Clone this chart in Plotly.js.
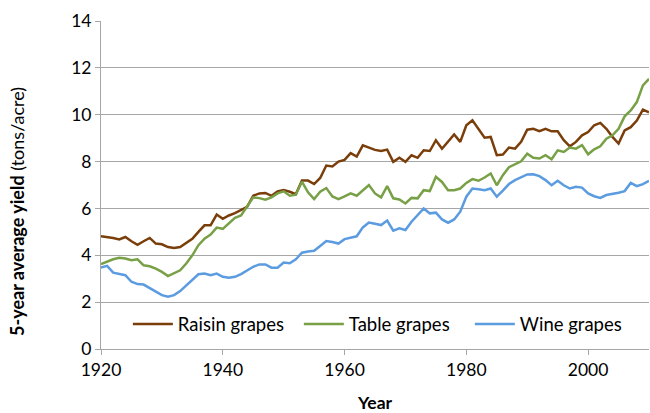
<!DOCTYPE html>
<html>
<head>
<meta charset="utf-8">
<script src="https://cdn.plot.ly/plotly-3.0.1.min.js"></script>
<style>html,body{margin:0;padding:0;background:#fff}#chart{width:650px;height:413px}</style>
</head>
<body>
<div id="chart"></div>
<script>
var startYear = 1920;
var endYear = 2010;
var years = [];
for (var y = startYear; y <= endYear; y++) years.push(y);

var raisin = [4.81,4.78,4.74,4.68,4.78,4.6,4.45,4.6,4.74,4.5,4.47,4.35,4.31,4.35,4.52,4.7,5.0,5.28,5.28,5.74,5.56,5.7,5.8,5.95,
  6.07,6.54,6.64,6.66,6.54,6.73,6.79,6.71,6.61,7.19,7.19,7.04,7.3,7.83,7.79,8.0,8.07,8.36,8.21,8.69,8.6,8.5,
  8.45,8.51,7.99,8.16,7.99,8.27,8.16,8.48,8.45,8.91,8.55,8.87,9.16,8.84,9.55,9.76,9.4,9.02,9.05,8.27,8.3,8.6,
  8.55,8.84,9.36,9.4,9.3,9.4,9.29,9.29,8.91,8.65,8.84,9.12,9.26,9.55,9.65,9.4,9.05,8.77,9.33,9.47,9.75,10.22,10.1];
var table = [3.62,3.72,3.83,3.89,3.86,3.79,3.83,3.57,3.53,3.43,3.29,3.11,3.22,3.36,3.65,4.0,4.43,4.71,4.88,5.18,5.13,5.35,5.6,5.7,
  6.11,6.47,6.44,6.37,6.47,6.64,6.73,6.54,6.59,7.14,6.69,6.4,6.71,6.87,6.51,6.4,6.51,6.64,6.54,6.79,7.0,6.64,
  6.47,6.95,6.43,6.38,6.21,6.45,6.43,6.78,6.74,7.35,7.13,6.78,6.78,6.85,7.09,7.25,7.18,7.32,7.49,6.99,7.42,7.76,
  7.89,8.01,8.34,8.16,8.13,8.27,8.1,8.48,8.41,8.6,8.55,8.7,8.31,8.52,8.65,8.98,9.12,9.4,9.93,10.18,10.54,11.25,11.53];
var wine = [3.48,3.55,3.26,3.22,3.15,2.87,2.77,2.75,2.61,2.44,2.30,2.23,2.30,2.47,2.7,2.96,3.19,3.22,3.15,3.22,3.08,3.04,3.08,3.2,
  3.37,3.51,3.61,3.61,3.47,3.47,3.69,3.66,3.83,4.11,4.16,4.19,4.4,4.61,4.57,4.5,4.69,4.76,4.81,5.19,5.4,5.35,
  5.29,5.48,5.05,5.15,5.08,5.43,5.72,6.0,5.79,5.82,5.53,5.39,5.53,5.86,6.5,6.85,6.82,6.78,6.85,6.5,6.76,7.04,
  7.21,7.32,7.45,7.46,7.38,7.21,6.99,7.18,6.99,6.85,6.92,6.89,6.64,6.52,6.45,6.57,6.61,6.67,6.74,7.09,6.95,7.04,7.18];

var seriesNames = ["Raisin grapes", "Table grapes", "Wine grapes"];
var xTicks = [1920, 1940, 1960, 1980, 2000];
var yTicks = [0, 2, 4, 6, 8, 10, 12, 14];

var colors = ["#7a3e0b", "#78a046", "#5b9be0"];
var data = [raisin, table, wine].map(function (vals, i) {
  return {
    x: years, y: vals, type: "scatter", mode: "lines", name: seriesNames[i],
    line: {color: colors[i], width: 2.5}
  };
});

var fam = "Lato, 'Open Sans', sans-serif";
var tickFont = {family: fam, size: 17.5, color: "#000"};
var layout = {
  width: 650, height: 413,
  margin: {l: 101, r: 1, t: 21, b: 64},
  paper_bgcolor: "#fff", plot_bgcolor: "#fff",
  font: tickFont,
  showlegend: true,
  legend: {orientation: "h", x: 0.049, xanchor: "left", y: 0.075, yanchor: "middle",
           font: {family: fam, size: 18.5, color: "#000"}, entrywidth: 116, entrywidthmode: "pixels",
           bgcolor: "rgba(0,0,0,0)", itemwidth: 40, tracegroupgap: 0},
  xaxis: {
    range: [startYear, endYear], tickvals: xTicks, ticktext: xTicks.map(String),
    showgrid: false, zeroline: false, showline: true, linecolor: "#a6a6a6", linewidth: 1,
    ticks: "outside", ticklen: 5, tickcolor: "#a6a6a6", tickfont: tickFont,
    title: {text: "<b>Year</b>", font: {family: fam, size: 17.5, color: "#000"}, standoff: 19}
  },
  yaxis: {
    range: [0, 14], tickvals: yTicks, ticktext: yTicks.map(String),
    showgrid: true, gridcolor: "#a6a6a6", gridwidth: 1, zeroline: false,
    showline: true, linecolor: "#a6a6a6", linewidth: 1,
    ticks: "outside", ticklen: 5, tickcolor: "#a6a6a6", tickfont: tickFont
  },
  annotations: [{
    text: "<b>5-year average yield</b> (tons/acre)", textangle: -90,
    xref: "paper", yref: "paper", x: -0.152, y: 0.42, xanchor: "center", yanchor: "middle",
    showarrow: false, font: {family: fam, size: 18, color: "#000"}
  }]
};

Plotly.newPlot("chart", data, layout, {staticPlot: true, displayModeBar: false});
</script>
</body>
</html>
